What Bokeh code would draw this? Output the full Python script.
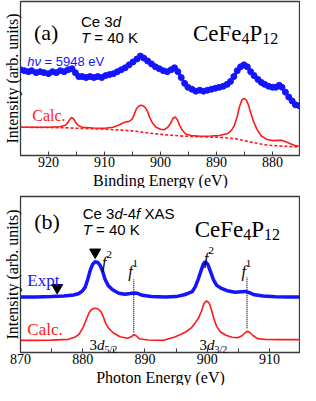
from bokeh.plotting import figure
from bokeh.models import Range1d, FixedTicker, Label, Title
from bokeh.layouts import column
from bokeh.embed import file_html
from bokeh.resources import INLINE

# ---------------- data: panel (a) Ce 3d HAXPES ----------------
a_exp_E = [925.0, 924.3, 923.6, 923.0, 922.2, 921.5, 920.8, 920.0, 919.3, 918.6, 917.9, 917.2,
           916.5, 915.8, 915.2, 914.6, 914.0, 913.3, 912.6, 911.9, 911.2, 910.5, 909.8, 909.1,
           908.4, 907.7, 907.0, 906.3, 905.6, 904.9, 904.2, 903.6, 903.0, 902.3, 901.6, 900.9,
           900.2, 899.5, 898.8, 898.1, 897.5, 896.9, 896.3, 895.7, 895.1, 894.4, 893.7, 893.0,
           892.3, 891.6, 890.9, 890.2, 889.5, 888.8, 888.1, 887.5, 886.9, 886.3, 885.7, 885.1,
           884.5, 883.9, 883.3, 882.6, 882.0, 881.4, 880.7, 880.0, 879.4, 878.8, 878.3, 877.7,
           877.1, 876.5, 875.9, 875.2]
a_exp_I = [88, 87, 86, 87, 85, 86, 85, 84, 86, 85, 87, 86,
           88, 89, 85, 81, 81, 80, 81, 80, 81, 80, 82, 83,
           84, 86, 88, 90, 93, 96, 99, 102, 100, 97, 94, 91,
           89, 87, 86, 88, 90, 86, 80, 74, 70, 68, 66, 67,
           66, 67, 68, 69, 70, 71, 73, 76, 81, 87, 91, 93,
           91, 86, 82, 78, 75, 73, 71, 70, 70, 72, 70, 65,
           60, 56, 52, 51]

a_calc_E = [925, 920, 918, 917, 916.5, 916.2, 915.9, 915.5, 915.1, 914.6, 914, 912, 910, 908.5,
            907.5, 906.8, 906.2, 905.6, 905.1, 904.7, 904.3, 903.9, 903.5, 903.1, 902.7, 902.3,
            901.9, 901.4, 900.8, 900, 899.3, 898.7, 898.2, 897.8, 897.4, 897.0, 896.6, 896.1,
            895.5, 894.5, 893, 891, 889.5, 888, 887.3, 886.8, 886.3, 885.9, 885.5, 885.1, 884.7,
            884.3, 883.9, 883.4, 882.8, 882, 881, 880, 879, 878.3, 877.6, 876.8, 876, 875]
a_calc_I = [29, 29, 29.5, 31, 34, 37, 39, 37.5, 33.5, 30.5, 29, 28.2, 28, 29,
            31, 33, 34.5, 35, 37, 42, 48, 50.5, 51.5, 51, 49, 45,
            38.5, 33, 29, 27, 26.5, 29, 33, 38, 39.5, 37, 31, 26,
            22, 20.5, 19.7, 20, 20.5, 22.5, 26, 31, 40, 50, 56.5, 58.7, 57,
            52, 44, 35, 27, 20, 16.5, 15.3, 15.5, 15.5, 14, 12, 10.2, 9.2]

a_bg_E = [925, 917, 915, 910, 905, 902, 899.4, 895.4, 889.6, 886.7, 884, 881, 878, 875]
a_bg_I = [29, 28.5, 28, 27, 25.3, 23, 21.3, 19.7, 18.7, 17.3, 14, 10.7, 9.5, 8.7]

a_major_ticks = [920, 910, 900, 890, 880]
a_minor_ticks = [925, 915, 905, 895, 885, 875]

# ---------------- data: panel (b) Ce 3d-4f XAS ----------------
b_exp_E = [870, 872.5, 875, 877, 878.5, 879.3, 879.9, 880.4, 880.8, 881.2, 881.6, 882.0, 882.4,
           882.8, 883.2, 883.6, 884.1, 884.8, 885.8, 886.8, 887.6, 888.2, 888.8, 889.6, 891,
           893.3, 895, 896.3, 897, 897.6, 898.1, 898.6, 899.0, 899.4, 899.7, 900.1, 900.5, 901,
           901.5, 902.2, 903.2, 904.5, 905.5, 906.1, 906.8, 907.6, 909, 911, 913, 915]
b_exp_I = [54.7, 54.8, 55.2, 55.8, 56.7, 58, 60.5, 64.5, 72, 81, 87.2, 89.5, 89,
           86, 80, 72, 66, 62, 58.5, 57.5, 58.2, 58.8, 58.4, 56.5, 55.2,
           54.7, 55.2, 57, 58.5, 60, 65, 73, 80.5, 87.5, 89.7, 87, 80.5, 72,
           66.5, 63.5, 61, 59.5, 60, 60.3, 59, 57, 55.7, 55, 54.8, 54.7]

b_calc_E = [870, 875, 877.7, 878.7, 879.4, 880, 880.5, 881, 881.4, 881.9, 882.4, 882.9, 883.3,
            883.7, 884.2, 884.9, 886, 887.2, 887.8, 888.2, 888.6, 889.1, 890.5, 893, 894.8,
            895.8, 896.6, 897.4, 898, 898.6, 899.1, 899.5, 899.9, 900.3, 900.7, 901.1, 901.5,
            902.1, 903, 904, 904.9, 905.6, 906.1, 906.5, 906.9, 907.4, 908.1, 909.5, 912, 915]
b_calc_I = [12, 12.2, 13, 15, 18, 24, 31.5, 39, 42.5, 43.7, 43.2, 40.5, 35.5,
            28.5, 23.5, 19.5, 15.5, 14, 15.5, 17.7, 16.5, 13.5, 12.3, 12, 15.3,
            18, 20.5, 24, 28.5, 34, 41, 48.5, 51, 49, 42, 33, 26,
            20.5, 17, 15, 14.5, 16.5, 19.5, 21, 19.5, 16.5, 13.7, 12.8, 12.7, 12.7]

b_f1_E = [888.2, 906.4]          # f^1 final-state markers (dotted lines)
b_f1_bottom = [20, 24]
b_f1_top = [72, 74]
b_tri_E = [875.9, 882.0]         # arrow-head markers
b_tri_I = [64, 99]

b_major_ticks = [870, 880, 890, 900, 910]
b_minor_ticks = [875, 885, 895, 905, 915]

BLUE = "#1414ff"
RED = "#ff1a1a"
SERIF = "Liberation Serif"
SANS = "Liberation Sans"

W = {
    (SERIF, False): {' ': 250, '(': 333, ')': 333, '-': 333, '.': 250, '/': 278, '=': 564,
                     'A': 722, 'C': 667, 'E': 611, 'F': 556, 'K': 722, 'P': 556, 'S': 556,
                     'T': 611, 'V': 722, 'X': 722, 'a': 444, 'b': 500, 'c': 444, 'd': 500,
                     'e': 444, 'l': 278, 'p': 500, 't': 278, 'x': 500},
    (SERIF, True): {'T': 556, 'd': 500, 'f': 278, 'h': 500, 'ν': 444},
    (SANS, False): {' ': 278, '-': 333, '=': 584, 'A': 667, 'C': 722, 'K': 667, 'S': 667,
                    'V': 667, 'X': 667, 'e': 556},
    (SANS, True): {'T': 611, 'd': 556, 'f': 278, 'h': 556, 'ν': 500},
}


def tw(s, size, font, italic=False):
    default = 556 if font == SANS else 500
    tbl = W[(font, italic)]
    return sum(tbl.get(c, default) for c in s) * size / 1000.0


def rich(p, x, y, parts, color="black", font=SERIF):
    off = 0.0
    for text, size, italic, dy in parts:
        lead = len(text) - len(text.lstrip(" "))
        off += tw(" " * lead, size, font, False)
        t = text.lstrip(" ")
        p.add_layout(Label(x=x, y=y, x_offset=off, y_offset=dy, text=t,
                           text_font=font, text_font_size=f"{size}px",
                           text_font_style="italic" if italic else "normal",
                           text_color=color, text_baseline="alphabetic", text_align="left"))
        off += tw(t, size, font, italic)


def style(p, major, minor, xlabel):
    p.grid.grid_line_color = None
    p.outline_line_color = "#3a3a3a"
    p.outline_line_width = 1.3
    p.outline_line_alpha = 1.0
    ax = p.xaxis[0]
    ax.ticker = FixedTicker(ticks=major, minor_ticks=minor)
    ax.axis_line_color = None
    ax.major_tick_in = 4
    ax.major_tick_out = 0
    ax.minor_tick_in = 4
    ax.minor_tick_out = 0
    ax.major_tick_line_color = "#3a3a3a"
    ax.minor_tick_line_color = "#3a3a3a"
    ax.major_label_text_font = SERIF
    ax.major_label_text_font_size = "14px"
    ax.major_label_text_color = "black"
    ax.major_label_standoff = 1
    p.add_layout(Title(text=xlabel, align="center", text_font=SERIF, text_font_size="16px",
                       text_font_style="normal", text_color="black", standoff=0,
                       offset=0), "below")
    ay = p.yaxis[0]
    ay.ticker = FixedTicker(ticks=[])
    ay.axis_line_color = None
    ay.major_tick_line_color = None
    ay.minor_tick_line_color = None
    ay.axis_label = "Intensity (arb. units)"
    ay.axis_label_text_font = SERIF
    ay.axis_label_text_font_size = "16px"
    ay.axis_label_text_font_style = "normal"
    ay.axis_label_text_color = "black"
    ay.axis_label_standoff = 0


# ---------------- panel (a) ----------------
p1 = figure(width=300, height=188, x_range=Range1d(925, 875), y_range=Range1d(0, 158),
            output_backend="svg", toolbar_location=None,
            min_border_left=19, min_border_right=0, min_border_top=1, min_border_bottom=0)
style(p1, a_major_ticks, a_minor_ticks, "Binding Energy (eV)")

p1.line(a_exp_E, a_exp_I, color=BLUE, line_width=3)
p1.scatter(a_exp_E, a_exp_I, size=6, color=BLUE)
p1.line(a_calc_E, a_calc_I, color=RED, line_width=1.6)
p1.line(a_bg_E, a_bg_I, color=RED, line_width=1.6, line_dash="3 2")

rich(p1, 922.6, 126, [("(a)", 22, False, 0)])
rich(p1, 914.2, 137, [("Ce 3", 15, False, 0), ("d", 15, True, 0)], font=SANS)
rich(p1, 914.2, 121, [("T", 15, True, 0), (" = 40 K", 15, False, 0)], font=SANS)
rich(p1, 894.2, 125, [("CeFe", 23, False, 0), ("4", 16, False, -5), ("P", 23, False, 0),
                      ("12", 16, False, -5)])
rich(p1, 923.8, 96, [("hν", 13, True, 0), (" = 5948 eV", 13, False, 0)], color=BLUE, font=SANS)
rich(p1, 922.9, 41, [("Calc.", 16, False, 0)], color=RED)

# ---------------- panel (b) ----------------
p2 = figure(width=300, height=197, x_range=Range1d(870, 915), y_range=Range1d(0, 154),
            output_backend="svg", toolbar_location=None,
            min_border_left=19, min_border_right=0, min_border_top=8, min_border_bottom=0)
style(p2, b_major_ticks, b_minor_ticks, "Photon Energy (eV)")

p2.segment(x0=b_f1_E, y0=b_f1_bottom, x1=b_f1_E, y1=b_f1_top, color="black",
           line_width=1.2, line_dash="1 1")
p2.line(b_exp_E, b_exp_I, color=BLUE, line_width=3.5)
p2.line(b_calc_E, b_calc_I, color=RED, line_width=1.6)
p2.scatter(b_tri_E, b_tri_I, marker="inverted_triangle", size=11, color="black")

rich(p2, 872.2, 129, [("(b)", 22, False, 0)])
rich(p2, 880.0, 137, [("Ce 3", 15, False, 0), ("d", 15, True, 0), ("-4", 15, False, 0),
                      ("f", 15, True, 0), (" XAS", 15, False, 0)], font=SANS)
rich(p2, 880.0, 121, [("T", 15, True, 0), (" = 40 K", 15, False, 0)], font=SANS)
rich(p2, 898.0, 121, [("CeFe", 23, False, 0), ("4", 16, False, -5), ("P", 23, False, 0),
                      ("12", 16, False, -5)])
rich(p2, 871.1, 71, [("Expt.", 17, False, 0)], color=BLUE)
rich(p2, 871.1, 23, [("Calc.", 17, False, 0)], color=RED)
rich(p2, 883.1, 89, [("f", 16, True, 0), ("2", 11, False, 8)])
rich(p2, 887.3, 80, [("f", 16, True, 0), ("1", 11, False, 8)])
rich(p2, 899.5, 93, [("f", 16, True, 0), ("2", 11, False, 8)])
rich(p2, 905.5, 80, [("f", 16, True, 0), ("1", 11, False, 8)])
rich(p2, 881.1, 7, [("3", 15, False, 0), ("d", 15, True, 0), ("5/2", 10, False, -4)])
rich(p2, 898.75, 7, [("3", 15, False, 0), ("d", 15, True, 0), ("3/2", 10, False, -4)])

layout = column(p1, p2)
open("out.html", "w").write(file_html(layout, INLINE))
